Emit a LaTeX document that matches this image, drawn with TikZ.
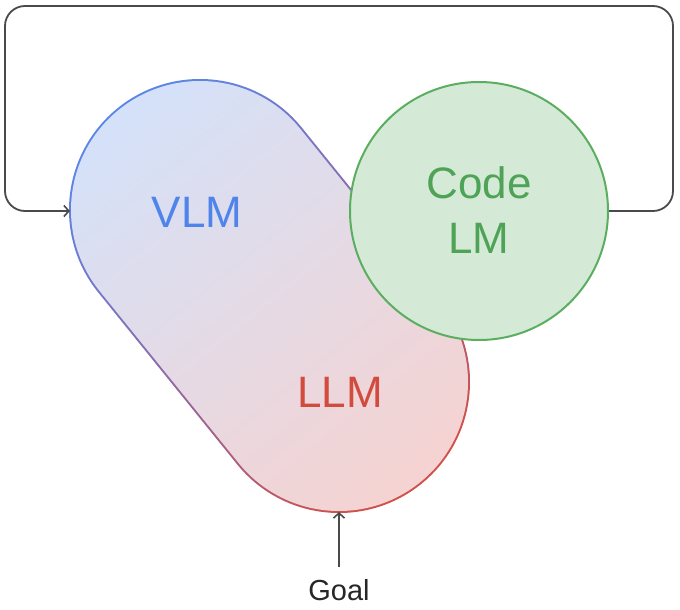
\documentclass[tikz,border=0pt]{standalone}
\usepackage{fontspec}
\setmainfont{Liberation Sans}
\usetikzlibrary{arrows.meta}
\definecolor{vblue}{HTML}{5B86E6}
\definecolor{lred}{HTML}{D0514B}
\definecolor{mpurp}{HTML}{8E6AA8}
\definecolor{fblue}{HTML}{D5E1F8}
\definecolor{fred}{HTML}{F4D3D2}
\definecolor{cgreen}{HTML}{5BAD5F}
\definecolor{cfill}{HTML}{D4EAD6}
\definecolor{tblue}{HTML}{4F84EA}
\definecolor{tred}{HTML}{D24B3F}
\definecolor{tgreen}{HTML}{4FA356}
\definecolor{linec}{HTML}{4A4A4A}
\newcommand{\stadiumpath}[1]{(200,-210) ++(38.95:#1) arc[start angle=38.95,end angle=218.95,radius=#1] -- ++(139,-172) arc[start angle=218.95,end angle=398.95,radius=#1] -- cycle}
\tikzset{
  loopline/.style={draw=linec, line width=1.8pt, rounded corners=20pt, -{Straight Barb[length=5pt,width=11pt,line width=1.6pt]}},
  lbl/.style={anchor=base, inner sep=0, font=\fontsize{44}{44}\selectfont},
  goalstyle/.style={anchor=base, inner sep=0, font=\fontsize{29}{29}\selectfont, text=black!85},
}
\begin{document}
\begin{tikzpicture}[x=1pt,y=1pt]
\useasboundingbox (0,0) rectangle (680,-610);
% stadium (VLM + LLM) with gradient stroke and fill
\shade[top color=vblue, bottom color=lred, middle color=mpurp, shading angle=38.9] \stadiumpath{131};
\shade[top color=fblue, bottom color=fred, shading angle=38.9] \stadiumpath{129};
\coordinate (vlmin) at (70,-211);
\coordinate (llmbot) at (339,-512);
% Code LM circle
\node[circle, minimum size=258pt, inner sep=0, draw=cgreen, fill=cfill, line width=2pt] (code) at (479,-211) {};
% labels
\node[lbl, text=tblue] (vlm) at (197,-227) {VLM};
\node[lbl, text=tred] (llm) at (340,-407) {LLM};
\node[lbl, text=tgreen] (codetxt) at (479,-198) {Code};
\node[lbl, text=tgreen] (lmtxt) at (479,-253) {LM};
\node[goalstyle] (goal) at (339,-600) {Goal};
% connectors
\draw[loopline] (code.east) -- (673,-211) -- (673,-6) -- (5,-6) -- (5,-211) -- (vlmin);
\draw[loopline] ([yshift=12pt]goal.north) -- (llmbot);
\end{tikzpicture}
\end{document}
